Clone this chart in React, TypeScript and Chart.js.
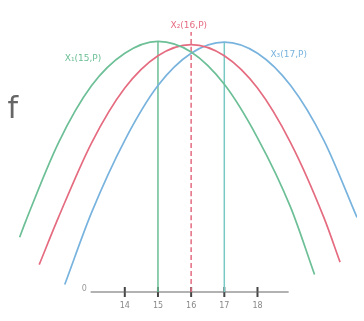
import React, { useEffect, useRef } from "react";
import { Chart, registerables } from "chart.js";

Chart.register(...registerables);

// Curve readings (x in axis units, y in arbitrary height units; axis at y = 0)
const greenX = [10.83, 11, 12, 13, 14, 15, 16, 17, 18, 19, 19.72];
const greenY = [2.2, 2.8, 6.0, 8.3, 9.6, 10.08, 9.65, 8.35, 6.2, 3.4, 0.7];
const redX = [11.42, 12, 13, 14, 15, 16, 17, 18, 19, 20, 20.49];
const redY = [1.1, 3.0, 6.0, 8.2, 9.5, 9.95, 9.5, 8.2, 6.0, 3.0, 1.2];
const blueX = [12.19, 13, 14, 15, 16, 17, 18, 19, 20, 21.0];
const blueY = [0.3, 3.2, 6.1, 8.3, 9.6, 10.05, 9.6, 8.3, 6.1, 3.0];

// Axis
const axisX = [12.97, 18.94];
const tickValues = [14, 15, 16, 17, 18];
const tickLabels = ["14", "15", "16", "17", "18"];

// Vertical markers
const markerX = [15, 16, 17];
const markerTop = [10.08, 10.45, 10.05];

// Text labels
const labelTexts = ["X\u2081(15,P)", "X\u2082(16,P)", "X\u2083(17,P)", "f", "0"];
const labelX = [12.74, 15.93, 18.94, 10.62, 12.78];
const labelY = [9.38, 10.69, 9.54, 7.3, 0.12];
const labelColors = ["#6cbf96", "#e56c80", "#78b3de", "#666666", "#999999"];
const labelFonts = [
  "9px 'DejaVu Sans'",
  "9px 'DejaVu Sans'",
  "9px 'DejaVu Sans'",
  "30px 'DejaVu Sans'",
  "8px 'DejaVu Sans'",
];

const GREEN = "#6cbf96";
const RED = "#e56c80";
const BLUE = "#78b3de";
const TEAL = "#78c9c3";

const pts = (xs: number[], ys: number[]) => xs.map((x, i) => ({ x, y: ys[i] }));

const textPlugin = {
  id: "textLabels",
  afterDatasetsDraw(chart: any) {
    const { ctx, scales } = chart;
    ctx.save();
    ctx.textAlign = "center";
    ctx.textBaseline = "middle";
    labelTexts.forEach((t, i) => {
      ctx.font = labelFonts[i];
      ctx.fillStyle = labelColors[i];
      ctx.fillText(t, scales.x.getPixelForValue(labelX[i]), scales.y.getPixelForValue(labelY[i]));
    });
    ctx.font = "8px 'DejaVu Sans'";
    ctx.fillStyle = "#888";
    ctx.textBaseline = "top";
    tickValues.forEach((v, i) => {
      ctx.fillText(tickLabels[i], scales.x.getPixelForValue(v), scales.y.getPixelForValue(0) + 10);
    });
    ctx.restore();
  },
};

export default function App() {
  const ref = useRef<HTMLCanvasElement | null>(null);
  useEffect(() => {
    if (!ref.current) return;
    const line = (data: any, color: string, width = 1.7, dash: number[] = []) => ({
      data,
      borderColor: color,
      backgroundColor: color,
      borderWidth: width,
      borderDash: dash,
      showLine: true,
      pointRadius: 0,
      cubicInterpolationMode: "monotone" as const,
      fill: false,
    });
    const chart = new Chart(ref.current, {
      type: "scatter",
      data: {
        datasets: [
          line(pts(greenX, greenY), GREEN),
          line(pts(redX, redY), RED),
          line(pts(blueX, blueY), BLUE),
          line(pts([markerX[0], markerX[0]], [0, markerTop[0]]), GREEN, 1.5),
          line(pts([markerX[1], markerX[1]], [0, markerTop[1]]), RED, 1.5, [5, 3]),
          line(pts([markerX[2], markerX[2]], [0, markerTop[2]]), TEAL, 1.5),
          line(pts(axisX, [0, 0]), "#666666", 1.2),
          {
            data: tickValues.map((v) => ({ x: v, y: 0 })),
            pointStyle: "line",
            rotation: 90,
            pointRadius: 5,
            borderColor: "#444444",
            borderWidth: 2,
            showLine: false,
          } as any,
        ],
      },
      options: {
        animation: false,
        responsive: true,
        maintainAspectRatio: false,
        layout: { padding: 0 },
        plugins: { legend: { display: false }, tooltip: { enabled: false } },
        scales: {
          x: { type: "linear", min: 10.449, max: 21.0, display: false },
          y: { type: "linear", min: -0.885, max: 11.46, display: false },
        },
      },
      plugins: [textPlugin],
    });
    return () => chart.destroy();
  }, []);
  return (
    <div style={{ position: "absolute", left: 0, top: 0, width: 364, height: 321, background: "#fff" }}>
      <canvas ref={ref} />
    </div>
  );
}
